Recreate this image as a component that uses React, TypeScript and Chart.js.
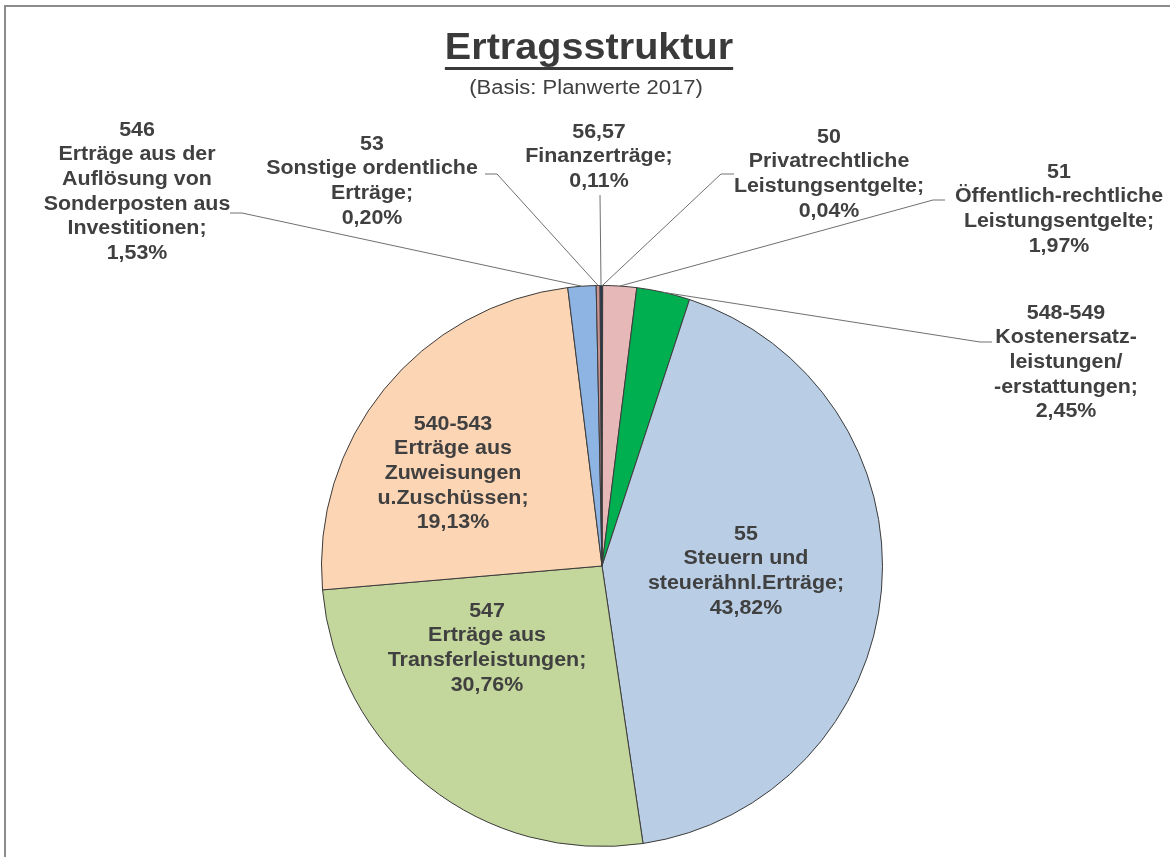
import { useEffect, useRef } from 'react';
import { Chart, registerables } from 'chart.js';

Chart.register(...registerables);

const chartTitle = 'Ertragsstruktur';
const chartSubtitle = '(Basis: Planwerte 2017)';

const categoryCodes = ['50', '51', '548-549', '55', '547', '540-543', '546', '53', '56,57'];
const categoryNames: string[][] = [
  ['Privatrechtliche', 'Leistungsentgelte;'],
  ['Öffentlich-rechtliche', 'Leistungsentgelte;'],
  ['Kostenersatz-', 'leistungen/', '-erstattungen;'],
  ['Steuern und', 'steuerähnl.Erträge;'],
  ['Erträge aus', 'Transferleistungen;'],
  ['Erträge aus', 'Zuweisungen', 'u.Zuschüssen;'],
  ['Erträge aus der', 'Auflösung von', 'Sonderposten aus', 'Investitionen;'],
  ['Sonstige ordentliche', 'Erträge;'],
  ['Finanzerträge;'],
];
// percentages as printed in the labels
const labelPercents = ['0,04%', '1,97%', '2,45%', '43,82%', '30,76%', '19,13%', '1,53%', '0,20%', '0,11%'];
// slice sizes as drawn in the picture (measured from the slice angles)
const sliceShares = [0.04, 1.94, 3.07, 42.6, 25.97, 24.4, 1.62, 0.22, 0.11];
const sliceColors = ['#953735', '#E6B9B8', '#00B050', '#B9CDE5', '#C3D69B', '#FCD5B5', '#8EB4E3', '#C89391', '#17375E'];

// label block layout: centre x, centre y of first line
const labelAnchors: [number, number][] = [
  [829, 137],
  [1059, 172],
  [1066, 313],
  [746, 534],
  [487, 611],
  [453, 424],
  [137, 130],
  [372, 144],
  [599, 132],
];
// leader line start points (label side); the end is taken from the arc
const leaderStarts: ([number, number][] | null)[] = [
  [[734, 174], [721, 174]],
  [[945, 200], [933, 200]],
  [[992, 342], [980, 342]],
  null,
  null,
  null,
  [[230, 213], [242, 213]],
  [[485, 174], [497, 174]],
  [[600, 195]],
];

const LINE_H = 24.7;
const TEXT_SX = 1.07;

function drawText(ctx: CanvasRenderingContext2D, text: string, x: number, y: number, sx: number) {
  ctx.save();
  ctx.translate(x, y);
  ctx.scale(sx, 1);
  ctx.fillText(text, 0, 0);
  ctx.restore();
}

const overlayPlugin = {
  id: 'overlay',
  beforeDraw(chart: any) {
    const ctx: CanvasRenderingContext2D = chart.ctx;
    ctx.save();
    ctx.fillStyle = '#ffffff';
    ctx.fillRect(0, 0, chart.width, chart.height);
    ctx.fillStyle = '#8c8c8c';
    ctx.fillRect(4, 5, chart.width - 4, 2);
    ctx.fillRect(4, 5, 2, chart.height - 5);
    ctx.restore();
  },
  afterDatasetsDraw(chart: any) {
    const ctx: CanvasRenderingContext2D = chart.ctx;
    const meta = chart.getDatasetMeta(0);
    ctx.save();
    // leader lines
    ctx.strokeStyle = '#707070';
    ctx.lineWidth = 1;
    meta.data.forEach((arc: any, i: number) => {
      const pts = leaderStarts[i];
      if (!pts) return;
      const p = arc.getProps(['x', 'y', 'startAngle', 'endAngle', 'outerRadius'], true);
      const mid = (p.startAngle + p.endAngle) / 2;
      const ex = p.x + Math.cos(mid) * p.outerRadius;
      const ey = p.y + Math.sin(mid) * p.outerRadius;
      ctx.beginPath();
      ctx.moveTo(pts[0][0], pts[0][1]);
      for (let k = 1; k < pts.length; k++) ctx.lineTo(pts[k][0], pts[k][1]);
      ctx.lineTo(ex, ey);
      ctx.stroke();
    });

    // title
    ctx.fillStyle = '#3a3a3a';
    ctx.textAlign = 'center';
    ctx.textBaseline = 'alphabetic';
    ctx.font = 'bold 36px "Liberation Sans", Arial, sans-serif';
    drawText(ctx, chartTitle, 589, 59, 1.1);
    const tw = ctx.measureText(chartTitle).width * 1.1;
    ctx.fillRect(589 - tw / 2, 67, tw, 3);
    ctx.fillStyle = '#404040';
    ctx.font = '20px "Liberation Sans", Arial, sans-serif';
    drawText(ctx, chartSubtitle, 586, 94, 1.1);

    // data labels
    ctx.font = 'bold 20px "Liberation Sans", Arial, sans-serif';
    ctx.textBaseline = 'middle';
    ctx.fillStyle = '#404040';
    categoryCodes.forEach((code, i) => {
      const lines = [code, ...categoryNames[i], labelPercents[i]];
      const [lx, ly] = labelAnchors[i];
      lines.forEach((ln, j) => drawText(ctx, ln, lx, ly + j * LINE_H, TEXT_SX));
    });
    ctx.restore();
  },
};

export default function App() {
  const canvasRef = useRef<HTMLCanvasElement | null>(null);

  useEffect(() => {
    if (!canvasRef.current) return;
    const chart = new Chart(canvasRef.current, {
      type: 'pie',
      data: {
        labels: categoryCodes,
        datasets: [
          {
            data: sliceShares,
            backgroundColor: sliceColors,
            borderColor: '#3c3c3c',
            borderWidth: 1,
          },
        ],
      },
      options: {
        responsive: false,
        animation: false,
        layout: { padding: { left: 320, right: 286, top: 285, bottom: 10 } },
        plugins: {
          legend: { display: false },
          tooltip: { enabled: false },
          title: { display: false },
        },
      },
      plugins: [overlayPlugin],
    });
    return () => chart.destroy();
  }, []);

  return (
    <div style={{ position: 'absolute', left: 0, top: 0, width: 1170, height: 857, background: '#fff' }}>
      <canvas ref={canvasRef} width={1170} height={857} />
    </div>
  );
}
